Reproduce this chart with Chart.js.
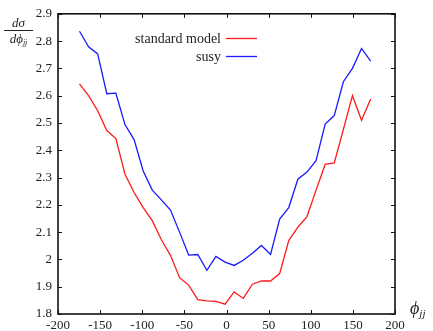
<!DOCTYPE html>
<html>
<head>
<meta charset="utf-8">
<script src="https://cdn.jsdelivr.net/npm/chart.js@4/dist/chart.umd.min.js"></script>
<style>
  body { margin: 0; background: #fff; }
  #wrap { position: relative; width: 433px; height: 331px; }
  .ttl { position: absolute; font-family: 'Liberation Serif', serif; font-style: italic; color: #222; }
  #ytitle { left: 4px; top: 16px; width: 29px; text-align: center; font-size: 13px; line-height: 13px; }
  #ytitle .num { display: block; border-bottom: 1px solid #222; padding-bottom: 1px; }
  #ytitle .den { display: block; padding-top: 1px; }
  #xtitle { left: 410px; top: 298px; font-size: 18px; }
  sub { font-size: 0.62em; vertical-align: -0.3em; }
</style>
</head>
<body>
<div id="wrap">
  <canvas id="phiChart" width="433" height="331"></canvas>
  <div id="ytitle" class="ttl"><span class="num">dσ</span><span class="den">dϕ<sub>jj</sub></span></div>
  <div id="xtitle" class="ttl">ϕ<sub>jj</sub></div>
</div>
<script>
'use strict';

// data ----------------------------------------------------------------------
let phiValues = [-174.5, -163.7, -152.9, -142.1, -131.3, -120.5, -109.7, -98.9, -88.1, -77.3,
  -66.5, -55.7, -44.9, -34.1, -23.3, -12.5, -1.7, 9.1, 19.9, 30.7,
  41.5, 52.3, 63.1, 73.9, 84.7, 95.5, 106.3, 117.1, 127.9, 138.7,
  149.5, 160.3, 171.1];
let smValues = [2.643, 2.600, 2.545, 2.472, 2.443, 2.312, 2.245, 2.190, 2.142, 2.072,
  2.015, 1.933, 1.906, 1.853, 1.848, 1.846, 1.836, 1.881, 1.857, 1.909,
  1.921, 1.921, 1.948, 2.069, 2.118, 2.157, 2.254, 2.348, 2.354, 2.476,
  2.600, 2.510, 2.588];
let susyValues = [2.836, 2.779, 2.753, 2.607, 2.609, 2.494, 2.439, 2.324, 2.254, 2.218,
  2.181, 2.100, 2.016, 2.018, 1.960, 2.011, 1.990, 1.978, 1.997, 2.023,
  2.051, 2.018, 2.148, 2.190, 2.294, 2.320, 2.362, 2.496, 2.527, 2.651,
  2.700, 2.773, 2.727];
let seriesNames = ['standard model', 'susy'];
let xTickValues = [-200, -150, -100, -50, 0, 50, 100, 150, 200];
let yTickValues = [1.8, 1.9, 2.0, 2.1, 2.2, 2.3, 2.4, 2.5, 2.6, 2.7, 2.8, 2.9];

function toPoints(values) {
  let pts = [];
  for (let i = 0; i < values.length; i++) {
    pts.push({ x: phiValues[i], y: values[i] });
  }
  return pts;
}

// gnuplot style box with inward ticks on all sides, plus the legend
let framePlugin = {
  id: 'frame',
  afterDatasetsDraw(chart) {
    let ctx = chart.ctx;
    let a = chart.chartArea;
    let xs = chart.scales.x;
    let ys = chart.scales.y;
    ctx.save();
    ctx.strokeStyle = '#111';
    ctx.lineWidth = 1;
    ctx.beginPath();
    xs.ticks.forEach(t => {
      let px = Math.round(xs.getPixelForValue(t.value)) + 0.5;
      ctx.moveTo(px, a.bottom); ctx.lineTo(px, a.bottom - 4);
      ctx.moveTo(px, a.top); ctx.lineTo(px, a.top + 4);
    });
    ys.ticks.forEach(t => {
      let py = Math.round(ys.getPixelForValue(t.value)) + 0.5;
      ctx.moveTo(a.left, py); ctx.lineTo(a.left + 4, py);
      ctx.moveTo(a.right, py); ctx.lineTo(a.right - 4, py);
    });
    ctx.stroke();
    ctx.lineWidth = 1.6;
    ctx.strokeRect(a.left, a.top, a.right - a.left, a.bottom - a.top);

    // legend: text on the left, line sample on the right
    ctx.font = '14px "Liberation Serif", serif';
    ctx.fillStyle = '#222';
    ctx.textAlign = 'right';
    ctx.textBaseline = 'alphabetic';
    chart.data.datasets.forEach((ds, i) => {
      let yy = 38.5 + i * 18;
      ctx.fillText(ds.label, 221, yy + 4);
      ctx.strokeStyle = ds.borderColor;
      ctx.lineWidth = 1.3;
      ctx.beginPath();
      ctx.moveTo(226, yy);
      ctx.lineTo(257, yy);
      ctx.stroke();
    });
    ctx.restore();
  }
};

let chartObject = {
  type: 'line',
  data: {
    datasets: [{
      label: seriesNames[0],
      data: toPoints(smValues),
      borderColor: '#ff1a1a',
      borderWidth: 1.3,
      pointRadius: 0,
      tension: 0,
      fill: false
    },
    {
      label: seriesNames[1],
      data: toPoints(susyValues),
      borderColor: '#1a1aff',
      borderWidth: 1.3,
      pointRadius: 0,
      tension: 0,
      fill: false
    }
    ]
  },
  options: {
    responsive: false,
    devicePixelRatio: 1,
    animation: false,
    layout: { padding: { top: 12, right: 38, left: 0, bottom: 0 } },
    plugins: {
      legend: { display: false },
      tooltip: { enabled: false }
    },
    scales: {
      x: {
        type: 'linear',
        min: -200,
        max: 200,
        afterBuildTicks: s => { s.ticks = xTickValues.map(v => ({ value: v })); },
        afterFit: s => { s.height = 17; },
        grid: { display: false, drawTicks: false },
        border: { display: false },
        ticks: {
          padding: 4,
          color: '#222',
          font: { family: 'Liberation Serif', size: 13 },
          callback: v => String(v)
        }
      },
      y: {
        min: 1.8,
        max: 2.9,
        afterBuildTicks: s => { s.ticks = yTickValues.map(v => ({ value: v })); },
        afterFit: s => { s.width = 58; },
        grid: { display: false, drawTicks: false },
        border: { display: false },
        ticks: {
          padding: 6,
          color: '#222',
          font: { family: 'Liberation Serif', size: 13 },
          callback: v => String(Number(v.toFixed(1)))
        }
      }
    }
  },
  plugins: [framePlugin]
};

let ctx = document.getElementById('phiChart').getContext('2d');
let myChart = new Chart(ctx, chartObject);
</script>
</body>
</html>
